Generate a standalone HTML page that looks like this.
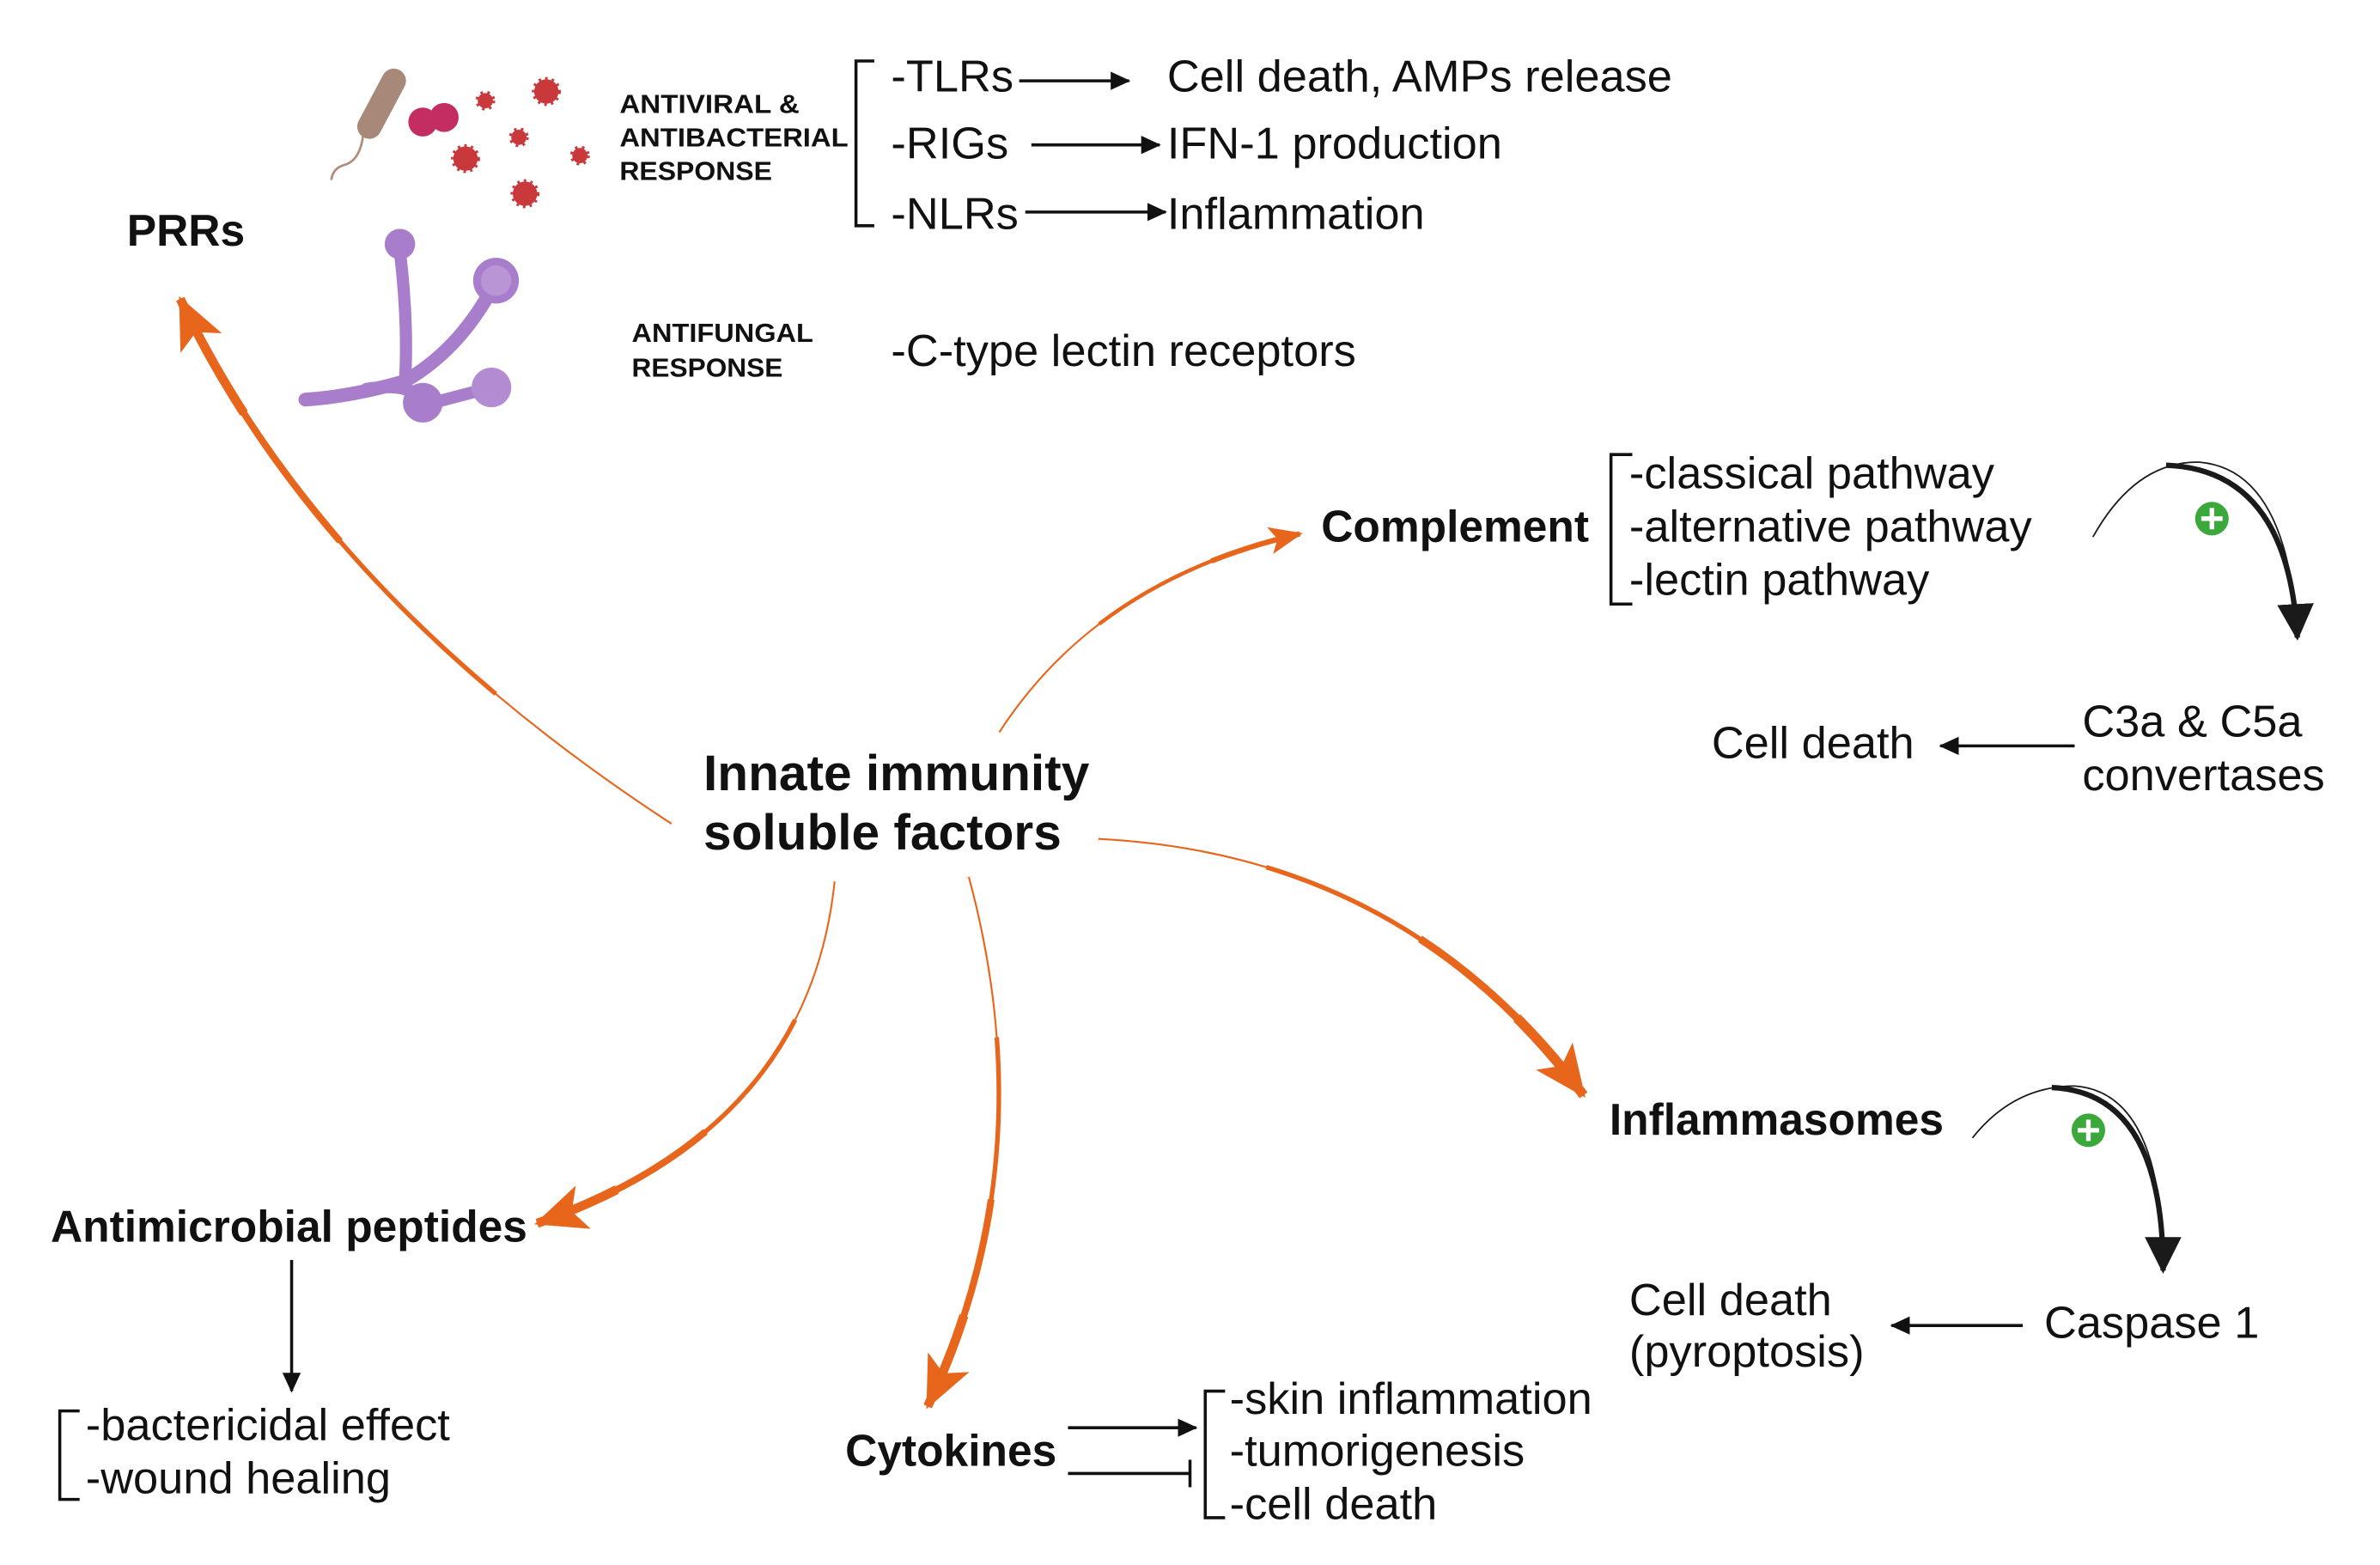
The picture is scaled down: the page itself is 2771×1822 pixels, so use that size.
<!DOCTYPE html>
<html><head><meta charset="utf-8"><style>
html,body{margin:0;padding:0;background:#fff;}
svg{display:block;}
text{font-family:"Liberation Sans",sans-serif;fill:#111;}
.t{font-size:29.5px;}
.b{font-size:29px;font-weight:bold;}
.s{font-size:17px;font-weight:bold;}
</style></head><body>
<svg width="2771" height="1822" viewBox="0 0 1560 1026" xmlns="http://www.w3.org/2000/svg">
<defs>
<marker id="oBig" markerUnits="userSpaceOnUse" markerWidth="40" markerHeight="40" refX="32" refY="15" orient="auto"><path d="M0,0 L34,15 L0,30 L8,15 Z" fill="#e8661c"/></marker>
<marker id="oSm" markerUnits="userSpaceOnUse" markerWidth="30" markerHeight="30" refX="20" refY="9" orient="auto"><path d="M0,0 L22,9 L0,18 L5,9 Z" fill="#e8661c"/></marker>
<marker id="k" markerUnits="userSpaceOnUse" markerWidth="20" markerHeight="20" refX="12" refY="6" orient="auto"><path d="M0,0 L13,6 L0,12 Z" fill="#111"/></marker>
<marker id="kBig" markerUnits="userSpaceOnUse" markerWidth="30" markerHeight="30" refX="22" refY="12" orient="auto"><path d="M0,0 L24,12 L0,24 Z" fill="#1a1a1a"/></marker>
</defs>

<!-- orange arrows -->
<g fill="none" stroke="#e8661c" stroke-linecap="butt">
  <path d="M440,540 Q210,390 118,196" stroke-width="1.2" marker-end="url(#oBig)"/>
  <path d="M440,540 Q210,390 118,196" pathLength="100" stroke-dasharray="0.01 30 70" stroke-width="3"/>
  <path d="M440,540 Q210,390 118,196" pathLength="100" stroke-dasharray="0.01 60 40" stroke-width="4.5"/>
  <path d="M440,540 Q210,390 118,196" pathLength="100" stroke-dasharray="0.01 82 18" stroke-width="6"/>

 <path d="M655,480 Q720,380 852,350" stroke-width="1.2" marker-end="url(#oSm)"/>
 <path d="M655,480 Q720,380 852,350" pathLength="100" stroke-dasharray="0.01 40 60" stroke-width="2.5"/>
 <path d="M655,480 Q720,380 852,350" pathLength="100" stroke-dasharray="0.01 75 25" stroke-width="3.5"/>

 <path d="M720,550 Q920,560 1038,718" stroke-width="1.2" marker-end="url(#oBig)"/>
 <path d="M720,550 Q920,560 1038,718" pathLength="100" stroke-dasharray="0.01 30 70" stroke-width="3"/>
 <path d="M720,550 Q920,560 1038,718" pathLength="100" stroke-dasharray="0.01 60 40" stroke-width="5"/>
 <path d="M720,550 Q920,560 1038,718" pathLength="100" stroke-dasharray="0.01 82 18" stroke-width="6.5"/>

 <path d="M547,578 Q530,740 352,802" stroke-width="1.2" marker-end="url(#oBig)"/>
 <path d="M547,578 Q530,740 352,802" pathLength="100" stroke-dasharray="0.01 30 70" stroke-width="3"/>
 <path d="M547,578 Q530,740 352,802" pathLength="100" stroke-dasharray="0.01 60 40" stroke-width="4.5"/>
 <path d="M547,578 Q530,740 352,802" pathLength="100" stroke-dasharray="0.01 82 18" stroke-width="6"/>

 <path d="M635,575 Q685,760 608,922" stroke-width="1.2" marker-end="url(#oBig)"/>
 <path d="M635,575 Q685,760 608,922" pathLength="100" stroke-dasharray="0.01 30 70" stroke-width="3"/>
 <path d="M635,575 Q685,760 608,922" pathLength="100" stroke-dasharray="0.01 60 40" stroke-width="4.5"/>
 <path d="M635,575 Q685,760 608,922" pathLength="100" stroke-dasharray="0.01 82 18" stroke-width="6"/>
</g>

<!-- microbes -->
<g>
 <path d="M238,88 Q236,105 226,108 Q218,110 217,118" stroke="#b08c7a" stroke-width="1.5" fill="none"/>
 <rect x="225" y="60" width="50" height="16" rx="8" fill="#a88878" transform="rotate(-62 250 68)"/>
 <circle cx="277" cy="80" r="9.5" fill="#c42d62"/><circle cx="291" cy="77" r="9.5" fill="#c42d62"/>
 <g fill="#c9383a" stroke="#c9383a" stroke-width="3" stroke-dasharray="1.5 2.6">
  <circle cx="318" cy="66" r="5"/><circle cx="358" cy="60" r="8"/><circle cx="340" cy="90" r="5"/>
  <circle cx="305" cy="104" r="8"/><circle cx="380" cy="102" r="5"/><circle cx="344" cy="127" r="8"/>
 </g>
 <g stroke="#a87dcc" stroke-linecap="round" fill="none">
  <path d="M262,165 Q268,215 265,255" stroke-width="8"/>
  <path d="M322,190 Q300,230 265,250 Q230,260 200,262" stroke-width="9"/>
  <path d="M240,255 Q270,250 280,265 L318,255" stroke-width="8"/>
 </g>
 <circle cx="262" cy="160" r="10" fill="#a87dcc"/>
 <circle cx="325" cy="184" r="15" fill="#a87dcc"/><circle cx="325" cy="184" r="10" fill="#b995d6"/>
 <circle cx="277" cy="264" r="13" fill="#a87dcc"/>
 <circle cx="322" cy="254" r="13" fill="#b38bd3"/>
</g>

<!-- top section -->
<text class="s" x="406" y="74" textLength="118" lengthAdjust="spacingAndGlyphs">ANTIVIRAL &amp;</text>
<text class="s" x="406" y="96" textLength="150" lengthAdjust="spacingAndGlyphs">ANTIBACTERIAL</text>
<text class="s" x="406" y="118" textLength="100" lengthAdjust="spacingAndGlyphs">RESPONSE</text>
<text class="s" x="414" y="224" textLength="119" lengthAdjust="spacingAndGlyphs">ANTIFUNGAL</text>
<text class="s" x="414" y="247" textLength="99" lengthAdjust="spacingAndGlyphs">RESPONSE</text>
<path d="M573,40 H561 V148 H573" stroke="#111" stroke-width="2" fill="none"/>
<text class="t" x="584" y="60">-TLRs</text>
<text class="t" x="584" y="104">-RIGs</text>
<text class="t" x="584" y="150">-NLRs</text>
<g stroke="#111" stroke-width="2">
 <line x1="668" y1="53" x2="740" y2="53" marker-end="url(#k)"/>
 <line x1="676" y1="95" x2="760" y2="95" marker-end="url(#k)"/>
 <line x1="672" y1="139" x2="764" y2="139" marker-end="url(#k)"/>
</g>
<text class="t" x="765" y="60">Cell death, AMPs release</text>
<text class="t" x="765" y="104">IFN-1 production</text>
<text class="t" x="765" y="150">Inflammation</text>
<text class="t" x="584" y="240">-C-type lectin receptors</text>
<text class="b" x="83" y="161">PRRs</text>

<!-- complement -->
<text class="b" x="866" y="355">Complement</text>
<path d="M1070,298 H1056 V396 H1070" stroke="#111" stroke-width="2" fill="none"/>
<text class="t" x="1068" y="320">-classical pathway</text>
<text class="t" x="1068" y="355">-alternative pathway</text>
<text class="t" x="1068" y="390">-lectin pathway</text>
<path d="M1372,352 Q1400,302 1442,303 Q1500,308 1506,418" stroke="#1a1a1a" stroke-width="1" fill="none"/>
<path d="M1420,305 Q1500,308 1506,418" stroke="#1a1a1a" stroke-width="3.5" fill="none" marker-end="url(#kBig)"/>
<circle cx="1450" cy="340" r="11" fill="#3aa83a"/>
<path d="M1450,333 V347 M1443,340 H1457" stroke="#fff" stroke-width="3"/>
<text class="t" x="1365" y="483">C3a &amp; C5a</text>
<text class="t" x="1365" y="518">convertases</text>
<line x1="1360" y1="489" x2="1272" y2="489" stroke="#111" stroke-width="2" marker-end="url(#k)"/>
<text class="t" x="1122" y="497">Cell death</text>

<!-- center -->
<text class="b" x="461" y="518" style="font-size:33px">Innate immunity</text>
<text class="b" x="461" y="557" style="font-size:33px">soluble factors</text>

<!-- inflammasomes -->
<text class="b" x="1055" y="744">Inflammasomes</text>
<path d="M1293,746 Q1320,712 1360,712 Q1418,716 1418,833" stroke="#1a1a1a" stroke-width="1" fill="none"/>
<path d="M1345,713 Q1418,716 1418,833" stroke="#1a1a1a" stroke-width="3.5" fill="none" marker-end="url(#kBig)"/>
<circle cx="1369" cy="741" r="11" fill="#3aa83a"/>
<path d="M1369,734 V748 M1362,741 H1376" stroke="#fff" stroke-width="3"/>
<text class="t" x="1340" y="877">Caspase 1</text>
<line x1="1326" y1="869" x2="1240" y2="869" stroke="#111" stroke-width="2" marker-end="url(#k)"/>
<text class="t" x="1068" y="862">Cell death</text>
<text class="t" x="1068" y="896">(pyroptosis)</text>

<!-- antimicrobial -->
<text class="b" x="33" y="814">Antimicrobial peptides</text>
<line x1="191" y1="826" x2="191" y2="912" stroke="#111" stroke-width="2" marker-end="url(#k)"/>
<path d="M52,925 H39 V983 H52" stroke="#111" stroke-width="2" fill="none"/>
<text class="t" x="56" y="944">-bactericidal effect</text>
<text class="t" x="56" y="979">-wound healing</text>

<!-- cytokines -->
<text class="b" x="554" y="961">Cytokines</text>
<line x1="700" y1="936" x2="784" y2="936" stroke="#111" stroke-width="2" marker-end="url(#k)"/>
<line x1="700" y1="966" x2="780" y2="966" stroke="#111" stroke-width="2"/>
<line x1="780" y1="957" x2="780" y2="975" stroke="#111" stroke-width="2"/>
<path d="M803,912 H790 V995 H803" stroke="#111" stroke-width="2" fill="none"/>
<text class="t" x="806" y="927">-skin inflammation</text>
<text class="t" x="806" y="961">-tumorigenesis</text>
<text class="t" x="806" y="996">-cell death</text>
</svg>
</body></html>
